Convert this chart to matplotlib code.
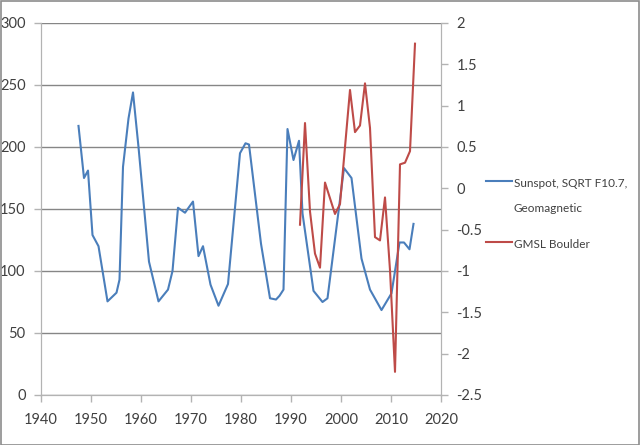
import matplotlib
matplotlib.use("Agg")
from matplotlib import pyplot as plt
from matplotlib.patches import Rectangle
from matplotlib.lines import Line2D

plt.rcParams['font.family'] = ['Lato', 'DejaVu Sans']

# Sunspot / SQRT F10.7 / geomagnetic composite (left axis)
sun_years = [1947.5, 1948.6, 1949.4, 1950.3, 1951.5, 1953.3, 1955.1, 1955.7,
             1956.4, 1957.5, 1958.4, 1959.5, 1961.6, 1963.5, 1965.4, 1966.3,
             1967.4, 1968.8, 1970.4, 1971.5, 1972.4, 1973.9, 1975.5, 1977.4,
             1979.8, 1980.9, 1981.6, 1984.0, 1985.8, 1987.0, 1987.7, 1988.5,
             1989.3, 1990.5, 1991.6, 1992.3, 1994.5, 1996.3, 1997.3, 2000.6,
             2002.1, 2004.1, 2005.8, 2008.1, 2010.1, 2011.7, 2012.6, 2013.7,
             2014.5]
sun_vals = [217, 175, 181, 129, 120, 75.5, 82.5, 93,
            184, 223, 244, 200, 107.5, 75.5, 85, 100,
            151, 147, 156, 112, 120, 89, 72, 89.5,
            195, 203, 202, 122, 78, 77, 80, 85,
            214.5, 189.5, 205, 146.5, 84, 75, 78, 183,
            175, 110, 85, 68.5, 82, 123, 123, 117.5,
            138]

# GMSL Boulder (right axis)
gmsl_years = [1991.8 + i for i in range(24)]
gmsl_vals = [-0.44, 0.79, -0.28, -0.79, -0.96, 0.07, -0.12, -0.31,
             -0.19, 0.50, 1.19, 0.68, 0.76, 1.27, 0.73, -0.59,
             -0.63, -0.11, -0.99, -2.22, 0.29, 0.31, 0.45, 1.75]

blue = '#4A7EBB'
red = '#BE4B48'
txt = '#404040'
grid_col = '#868686'
W, H = 640, 445

fig = plt.figure(figsize=(6.4, 4.45), dpi=100)
fig.patches.append(Rectangle((0.001, 0.001), 0.997, 0.997, transform=fig.transFigure,
                             fill=False, edgecolor='#8c8c8c', linewidth=1.2))

ax = fig.add_axes([41/W, 50/H, 400/W, 372/H])
ax2 = ax.twinx()

ax.plot(sun_years, sun_vals, color=blue, linewidth=1.5)
ax2.plot(gmsl_years, gmsl_vals, color=red, linewidth=1.5)

ax.set_xlim(1940, 2020)
ax.set_ylim(0, 300)
ax.set_xticks(range(1940, 2021, 10))
ax.set_yticks(range(0, 301, 50))
ax2.set_ylim(-2.5, 2)
ax2.set_yticks([-2.5, -2, -1.5, -1, -0.5, 0, 0.5, 1, 1.5, 2])
ax2.set_yticklabels(['-2.5', '-2', '-1.5', '-1', '-0.5', '0', '0.5', '1', '1.5', '2'])

ax.grid(axis='y', color=grid_col, linewidth=1)
ax.set_axisbelow(True)

for a in (ax, ax2):
    for s in a.spines.values():
        s.set_color('#b3b3b3')
    a.spines['top'].set_visible(False)
    a.tick_params(colors='#b3b3b3', labelcolor=txt, labelsize=10.5, length=5, width=1)
ax.tick_params(axis='y', pad=6)
ax2.tick_params(axis='y', pad=6)
ax.tick_params(axis='x', pad=8)

# legend, Excel style: handle level with the first text line
def px(x, y):
    return x / W, (H - y) / H

entries = [(blue, 181, ['Sunspot, SQRT F10.7,', 'Geomagnetic']),
           (red, 242, ['GMSL Boulder'])]
for col, ly, lines in entries:
    x0, y0 = px(486, ly)
    x1, _ = px(512, ly)
    fig.add_artist(Line2D([x0, x1], [y0, y0], color=col, linewidth=1.5,
                          transform=fig.transFigure))
    for i, s in enumerate(lines):
        tx, ty = px(514, ly + 6 + 25 * i)
        fig.text(tx, ty, s, fontsize=8.5, color=txt, va='baseline', ha='left')

fig.savefig('out.png', dpi=100)
